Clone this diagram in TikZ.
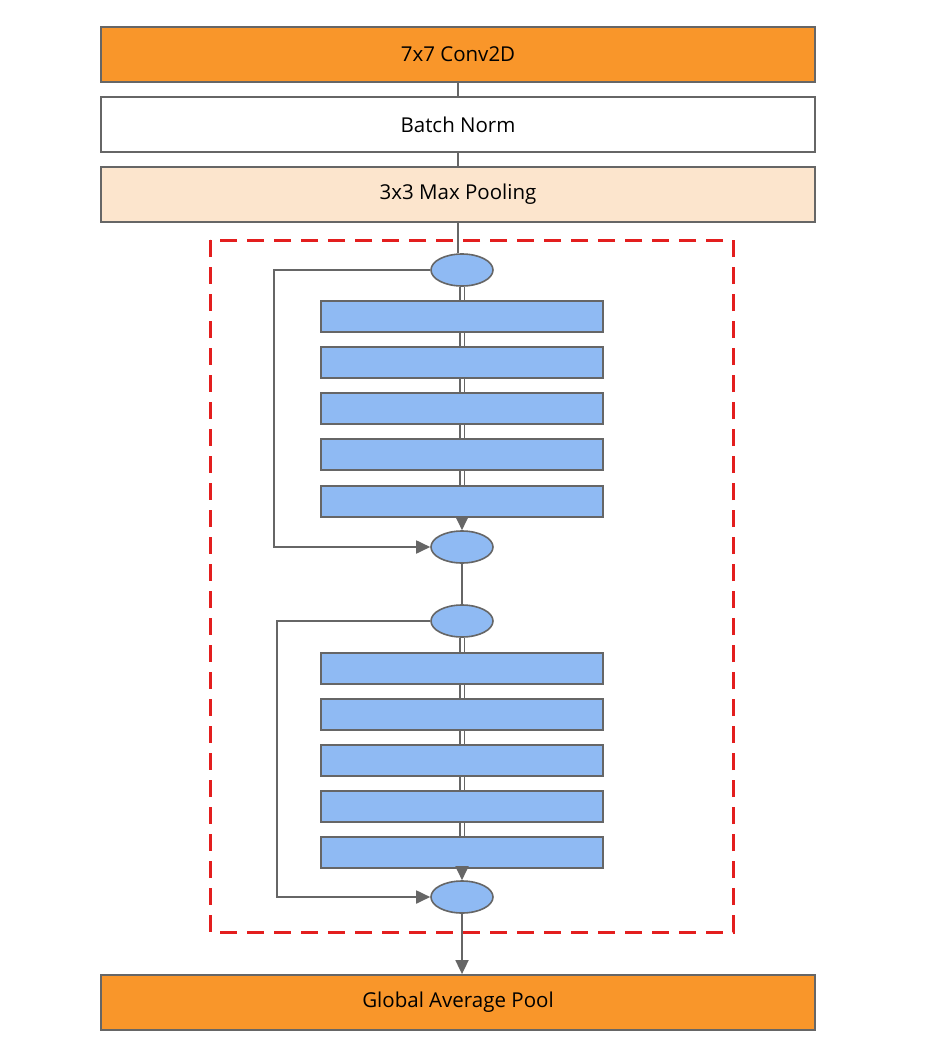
\documentclass[tikz,border=0pt]{standalone}
\usepackage{fontspec}
\setmainfont{Open Sans}
\usetikzlibrary{arrows.meta,shapes.geometric}
\definecolor{gorange}{HTML}{F9962A}
\definecolor{gpeach}{HTML}{FCE5CD}
\definecolor{gblue}{HTML}{8FBAF3}
\definecolor{gline}{HTML}{666666}
\definecolor{gred}{HTML}{E31E1E}
\tikzset{
  layer/.style={draw=gline,line width=1.8pt,minimum width=714pt,minimum height=55pt,inner sep=0pt,font=\fontsize{20.5}{22}\selectfont},
  bar/.style={draw=gline,line width=1.6pt,fill=gblue,minimum width=282pt,minimum height=31pt,inner sep=0pt},
  add/.style={ellipse,draw=gline,line width=1.6pt,fill=gblue,minimum width=62pt,minimum height=32pt,inner sep=0pt},
  conn/.style={draw=gline,line width=1.8pt},
  dconn/.style={draw=gline,line width=1.6pt,double=white,double distance=3pt},
  arr/.style={conn,-{Triangle[length=14pt,width=13pt]}},
}
\begin{document}
\begin{tikzpicture}[x=1pt,y=-1pt]
\useasboundingbox (0,0) rectangle (943,1057);
\fill[white] (0,0) rectangle (943,1057);
\node[layer,fill=gorange] (conv) at (458,54.5) {7x7 Conv2D};
\node[layer,fill=white] (bn) at (458,124.5) {Batch Norm};
\node[layer,fill=gpeach] (pool) at (458,194.5) {3x3 Max Pooling};
\node[layer,fill=gorange] (gap) at (458,1002.5) {Global Average Pool};
\draw[gred,line width=3pt,dash pattern=on 17pt off 10pt] (210,240) rectangle (733,932);
% block 1
\node[add] (a1) at (462,270) {};
\node[bar] (b1) at (462,316.5) {};
\node[bar] (b2) at (462,362.5) {};
\node[bar] (b3) at (462,408.5) {};
\node[bar] (b4) at (462,454.5) {};
\node[bar] (b5) at (462,501.5) {};
\node[add] (a2) at (462,547) {};
% block 2
\node[add] (a3) at (462,621) {};
\node[bar] (c1) at (462,668.5) {};
\node[bar] (c2) at (462,714.5) {};
\node[bar] (c3) at (462,760.5) {};
\node[bar] (c4) at (462,806.5) {};
\node[bar] (c5) at (462,852.5) {};
\node[add] (a4) at (462,897) {};
% connectors
\draw[conn] (conv.south -| 458,0) -- (bn.north -| 458,0);
\draw[conn] (bn.south -| 458,0) -- (pool.north -| 458,0);
\draw[conn] (pool.south -| 458,0) -- (a1.north -| 458,0);
\draw[dconn] (a1.south) -- (b1.north);
\draw[dconn] (b1.south) -- (b2.north);
\draw[dconn] (b2.south) -- (b3.north);
\draw[dconn] (b3.south) -- (b4.north);
\draw[dconn] (b4.south) -- (b5.north);
\draw[arr] (b5.south) -- (a2.north);
\draw[arr] (a1.west) -- (274,270) -- (274,547) -- (a2.west);
\draw[conn] (a2.south) -- (a3.north);
\draw[dconn] (a3.south) -- (c1.north);
\draw[dconn] (c1.south) -- (c2.north);
\draw[dconn] (c2.south) -- (c3.north);
\draw[dconn] (c3.south) -- (c4.north);
\draw[dconn] (c4.south) -- (c5.north);
\draw[arr] (c5.south) -- (a4.north);
\draw[arr] (a3.west) -- (277,621) -- (277,897) -- (a4.west);
\draw[arr] (a4.south) -- (a4.south |- gap.north);
\end{tikzpicture}
\end{document}
